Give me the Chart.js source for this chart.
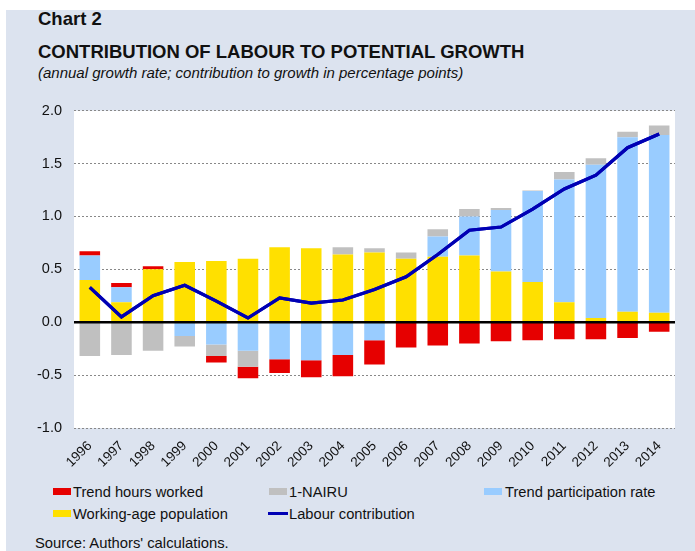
<!DOCTYPE html>
<html>
<head>
<meta charset="utf-8">
<script src="https://cdn.jsdelivr.net/npm/chart.js@4.4.1/dist/chart.umd.min.js"></script>
<style>
  html, body { margin:0; padding:0; }
  body { width:695px; height:551px; background:#ffffff; position:relative; overflow:hidden;
         font-family:"Liberation Sans", Arial, sans-serif; color:#111; }
  #panel { position:absolute; left:6px; top:10px; width:689px; height:541px; background:#dce3ef; }
  .t { position:absolute; left:38px; white-space:nowrap; }
  #t1 { top:10px; font-size:18.5px; font-weight:bold; line-height:18px; }
  #t2 { top:43px; font-size:18.5px; font-weight:bold; line-height:18px; }
  #t3 { top:65px; font-size:15px; font-style:italic; line-height:15px; }
  #wrap { position:absolute; left:0; top:90px; width:695px; height:390px; }
  .lg { position:absolute; font-size:14.7px; line-height:16px; white-space:nowrap; }
  .sw { position:absolute; width:18px; height:7px; }
  .ln { position:absolute; width:20px; height:3px; background:#0000b4; }
  #src { position:absolute; left:35px; top:535px; font-size:14.8px; line-height:16px; }
</style>
</head>
<body>
<div id="panel"></div>
<div class="t" id="t1">Chart 2</div>
<div class="t" id="t2">CONTRIBUTION OF LABOUR TO POTENTIAL GROWTH</div>
<div class="t" id="t3">(annual growth rate; contribution to growth in percentage points)</div>
<div id="wrap"><canvas id="c" width="695" height="390"></canvas></div>

<div class="sw" style="left:53px;top:488px;background:#e60000"></div>
<div class="lg" style="left:73px;top:484px">Trend hours worked</div>
<div class="sw" style="left:269px;top:488px;background:#c0c0c0"></div>
<div class="lg" style="left:289px;top:484px">1-NAIRU</div>
<div class="sw" style="left:484px;top:488px;background:#99ccff"></div>
<div class="lg" style="left:505px;top:484px">Trend participation rate</div>
<div class="sw" style="left:53px;top:510px;background:#ffe000"></div>
<div class="lg" style="left:73px;top:506px">Working-age population</div>
<div class="ln" style="left:268px;top:512px"></div>
<div class="lg" style="left:289px;top:506px">Labour contribution</div>
<div id="src">Source: Authors' calculations.</div>

<script>
const years = ["1996","1997","1998","1999","2000","2001","2002","2003","2004","2005","2006","2007","2008","2009","2010","2011","2012","2013","2014"];
const workingAge   = [0.40, 0.19, 0.50, 0.57, 0.58, 0.60, 0.71, 0.70, 0.64, 0.66, 0.60, 0.62, 0.63, 0.48, 0.38, 0.19, 0.04, 0.10, 0.09];
const participation= [0.23, 0.14, 0.00,-0.13,-0.21,-0.27,-0.35,-0.36,-0.31,-0.17, 0.00, 0.19, 0.37, 0.58, 0.86, 1.16, 1.45, 1.65, 1.68];
const nairu        = [-0.32,-0.31,-0.27,-0.10,-0.11,-0.15, 0.00, 0.00, 0.07, 0.04, 0.06, 0.07, 0.07, 0.02, 0.005, 0.07, 0.06, 0.05, 0.09];
const hours        = [0.04, 0.04, 0.03, 0.00,-0.06,-0.11,-0.13,-0.16,-0.20,-0.23,-0.24,-0.22,-0.20,-0.18,-0.17,-0.16,-0.16,-0.15,-0.09];
const labour       = [0.33, 0.05, 0.25, 0.35, 0.20, 0.04, 0.23, 0.18, 0.21, 0.31, 0.43, 0.64, 0.87, 0.90, 1.07, 1.26, 1.39, 1.65, 1.78];
const yTicks = [-1.0, -0.5, 0.0, 0.5, 1.0, 1.5, 2.0];

const plotBg = {
  id: 'plotBg',
  beforeDraw(chart) {
    const {ctx, chartArea:a} = chart;
    ctx.save(); ctx.fillStyle = '#ffffff';
    ctx.fillRect(a.left, a.top, a.right - a.left, a.bottom - a.top);
    ctx.restore();
  },
  afterDatasetsDraw(chart) {
    const {ctx, chartArea:a, scales} = chart;
    const y0 = scales.y.getPixelForValue(0);
    ctx.save(); ctx.strokeStyle = '#000'; ctx.lineWidth = 2.5;
    ctx.beginPath(); ctx.moveTo(a.left, y0); ctx.lineTo(a.right, y0); ctx.stroke();
    ctx.restore();
    const meta = chart.getDatasetMeta(0);
    meta.controller.draw();
  }
};

const barCommon = { type:'bar', stack:'s', barPercentage:0.65, categoryPercentage:1.0, borderWidth:0 };

new Chart(document.getElementById('c'), {
  data: {
    labels: years,
    datasets: [
      { type:'line', label:'Labour contribution', data:labour, stack:'line', borderColor:'#0000b4', borderWidth:3.2,
        pointRadius:0, tension:0, fill:false },
      Object.assign({ label:'Working-age population', data:workingAge, backgroundColor:'#ffe000' }, barCommon),
      Object.assign({ label:'Trend participation rate', data:participation, backgroundColor:'#99ccff' }, barCommon),
      Object.assign({ label:'1-NAIRU', data:nairu, backgroundColor:'#c0c0c0' }, barCommon),
      Object.assign({ label:'Trend hours worked', data:hours, backgroundColor:'#e60000' }, barCommon)
    ]
  },
  options: {
    responsive:false, animation:false,
    layout: { padding: { top:20.7, right:20, left:0, bottom:0 } },
    plugins: { legend:{display:false}, tooltip:{enabled:false} },
    scales: {
      x: {
        stacked:true,
        grid:{ display:false }, border:{ display:false },
        ticks:{ maxRotation:45, minRotation:45, autoSkip:false, color:'#111', padding:2,
                font:{ family:'"Liberation Sans", Arial, sans-serif', size:13.5 } },
        afterFit(s){ s.height = 52; }
      },
      y: {
        stacked:true, min:-1, max:2,
        afterBuildTicks(s){ s.ticks = yTicks.map(v => ({value:v})); },
        grid:{ color:(c)=> c.tick && c.tick.value === 0 ? 'rgba(0,0,0,0)' : '#888', lineWidth:1, drawTicks:false },
        border:{ display:false, dash:[2,2] },
        ticks:{ color:'#111', padding:12, callback:(v)=> Number(v).toFixed(1),
                font:{ family:'"Liberation Sans", Arial, sans-serif', size:14.5 } },
        afterFit(s){ s.width = 74; }
      }
    }
  },
  plugins:[plotBg]
});
</script>
</body>
</html>
